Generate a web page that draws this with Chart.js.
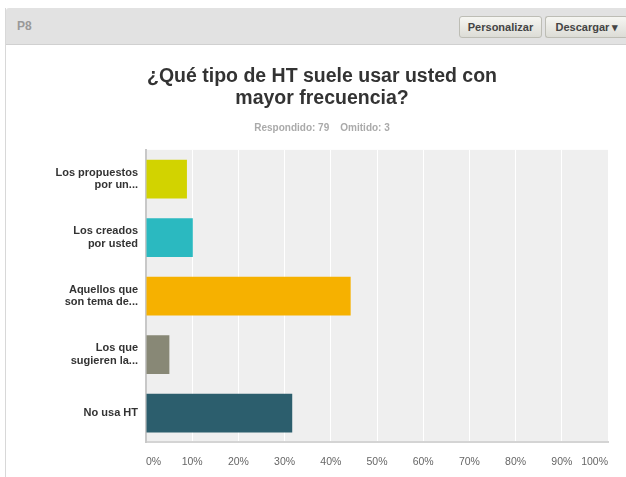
<!DOCTYPE html>
<html>
<head>
<meta charset="utf-8">
<script src="https://cdn.jsdelivr.net/npm/chart.js@4"></script>
<style>
  body { margin: 0; background: #fff; font-family: Arial, "Liberation Sans", sans-serif; overflow: hidden; }
  #panel { position: absolute; left: 5px; top: 8px; width: 621px; height: 469px; border-left: 1px solid #d8d8d8; }
  #cabecera { position: absolute; left: 0; top: 0; width: 621px; height: 36px; background: #e2e2e2; border-bottom: 1px solid #d0d0d0; border-top-left-radius: 3px; }
  #cabecera .p { position: absolute; left: 11px; top: 11px; font-size: 12px; color: #999; font-weight: bold; }
  .boton { position: absolute; top: 8px; height: 20px; line-height: 20px; font-size: 11px; font-weight: bold; color: #444;
           background: linear-gradient(#f6f6f2, #dcdcd6); border: 1px solid #bdbdb5; border-radius: 3px; text-align: center; }
  #contenedor { position: absolute; left: 6px; top: 45px; width: 620px; height: 436px; }
</style>
</head>
<body>
<div id="panel">
  <div id="cabecera">
    <span class="p">P8</span>
    <div class="boton" style="left:453px;width:81px;">Personalizar</div>
    <div class="boton" style="left:539px;width:82px;border-right:none;">Descargar &#9662;</div>
  </div>
</div>
<div id="contenedor"><canvas id="grafica"></canvas></div>
<script>
// ---------- DATOS ----------
const categorias = [['Los propuestos', 'por un...'], ['Los creados', 'por usted'], ['Aquellos que', 'son tema de...'], ['Los que', 'sugieren la...'], 'No usa HT'];
const porcentajes = [8.86, 10.13, 44.30, 5.06, 31.65];
const colores = ['#d2d300', '#2bb9c0', '#f6b100', '#888876', '#2c5e6d'];
const titulo = ['¿Qué tipo de HT suele usar usted con', 'mayor frecuencia?'];
const subtitulo = 'Respondido: 79    Omitido: 3';

// fondo gris del area de la grafica
const fondoArea = {
  id: 'fondoArea',
  beforeDraw(chart) {
    const {ctx, chartArea} = chart;
    ctx.save();
    ctx.fillStyle = '#efefef';
    ctx.fillRect(chartArea.left, chartArea.top, chartArea.right - chartArea.left, chartArea.bottom - chartArea.top);
    ctx.restore();
  }
};

const fuente = 'Arial, "Liberation Sans", sans-serif';

new Chart(document.getElementById('grafica'), {
  type: 'bar',
  data: {
    labels: categorias,
    datasets: [{
      data: porcentajes,
      backgroundColor: colores,
      barPercentage: 0.66,
      categoryPercentage: 1
    }]
  },
  options: {
    indexAxis: 'y',
    responsive: true,
    maintainAspectRatio: false,
    animation: false,
    layout: { padding: { left: 30, right: 18, bottom: 0 } },
    plugins: {
      legend: { display: false },
      tooltip: { enabled: false },
      title: {
        display: true,
        text: titulo,
        color: '#333',
        font: { family: fuente, size: 19.5, weight: 'bold', lineHeight: 1.15 },
        padding: { top: 20, bottom: 12 }
      },
      subtitle: {
        display: true,
        text: subtitulo,
        color: '#aaa',
        font: { family: fuente, size: 10, weight: 'bold' },
        padding: { bottom: 16 }
      }
    },
    scales: {
      x: {
        min: 0,
        max: 100,
        ticks: { stepSize: 10, align: 'inner', color: '#666', padding: 13,
                 font: { family: fuente, size: 10.5 }, callback: v => v + '%' },
        grid: { color: '#ffffff', lineWidth: 1, drawTicks: false },
        border: { color: '#d4d4d4', width: 2 }
      },
      y: {
        afterFit(scale) { scale.width = 110; },
        ticks: { color: '#333', padding: 8, font: { family: fuente, size: 11, weight: 'bold', lineHeight: 1.15 } },
        grid: { display: false, drawTicks: false },
        border: { color: '#c8c8c8', width: 2 }
      }
    }
  },
  plugins: [fondoArea]
});
</script>
</body>
</html>
